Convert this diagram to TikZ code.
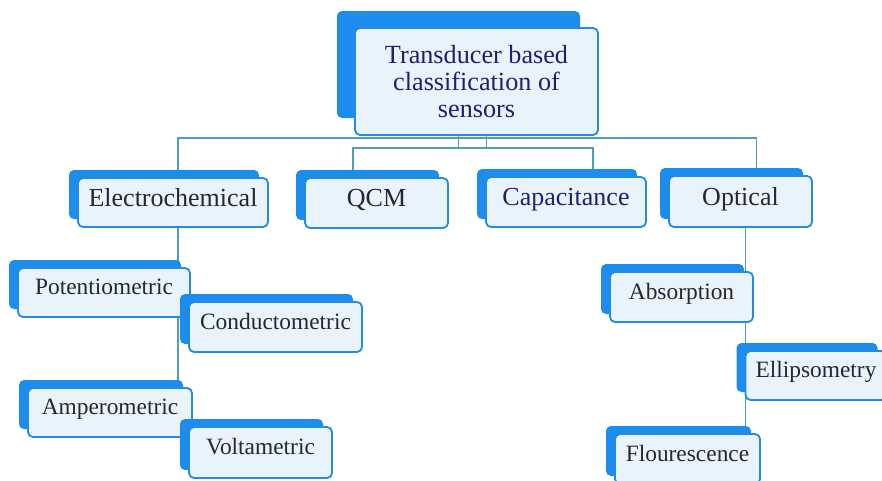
\documentclass[tikz,border=0pt]{standalone}
\usepackage{fontspec}
\setmainfont{Liberation Serif}
\usepackage{tikz}
\usetikzlibrary{positioning}
\usetikzlibrary{shadows}
\usetikzlibrary{backgrounds}
\definecolor{shadowblue}{RGB}{28,141,236}
\definecolor{edgeblue}{RGB}{36,138,226}
\definecolor{boxfill}{RGB}{232,243,252}
\definecolor{linkteal}{RGB}{78,158,180}
\definecolor{darktext}{RGB}{38,38,52}
\definecolor{navytext}{RGB}{32,32,112}

\begin{document}
\begin{tikzpicture}[x=1pt, y=-1pt,
    basebox/.style={draw=edgeblue, line width=1.8pt, fill=boxfill, rounded corners=5pt,
        inner sep=0pt, text=darktext},
    box/.style={basebox,
        general shadow={fill=shadowblue, shadow xshift=-9pt, shadow yshift=8pt}},
    catbox/.style={box, font=\fontsize{26}{30}\selectfont, text height=18pt, text depth=10.8pt},
    subbox/.style={box, font=\fontsize{23.4}{27}\selectfont, text height=16pt, text depth=11.5pt},
    link/.style={draw=linkteal, line width=1.8pt}]
    \useasboundingbox (0,0) rectangle (882,480);

    % root
    \node[basebox, minimum width=243pt, minimum height=107pt, align=center, text=navytext,
        font=\fontsize{26.2}{27}\selectfont,
        general shadow={fill=shadowblue, shadow xshift=-18pt, shadow yshift=17pt}]
        (top) at (476.5,81.5) {Transducer based\\classification of\\sensors};

    % first level
    \node[catbox, minimum width=190pt, minimum height=49pt] (elec) at (173,202.5) {Electrochemical};
    \node[catbox, minimum width=143pt, minimum height=50pt] (qcm) at (376.5,203) {QCM};
    \node[catbox, minimum width=160pt, minimum height=50pt, text=navytext] (cap) at (566,202) {Capacitance};
    \node[catbox, minimum width=143pt, minimum height=51pt] (opt) at (740.5,201.5) {Optical};

    % electrochemical branch
    \node[subbox, minimum width=172pt, minimum height=49pt] (pot) at (104,292.5) {Potentiometric};
    \node[subbox, minimum width=173pt, minimum height=50pt] (cond) at (275.5,327) {Conductometric};
    \node[subbox, minimum width=164pt, minimum height=49pt] (amp) at (110,412.5) {Amperometric};
    \node[subbox, minimum width=143pt, minimum height=51pt] (volt) at (260.5,452.5) {Voltametric};

    % optical branch
    \node[subbox, minimum width=143pt, minimum height=50pt] (abs) at (681.5,297) {Absorption};
    \node[subbox, minimum width=141pt, minimum height=49pt] (ell) at (816,375.5) {Ellipsometry};
    \node[subbox, minimum width=145pt, minimum height=50pt] (flo) at (687.5,459) {Flourescence};

    \begin{pgfonlayer}{background}
        \draw[link] ([xshift=5pt]elec.north) |- ([yshift=-2pt]top.south) -| ([xshift=16pt]opt.north);
        \draw[link] ([xshift=-23.5pt]qcm.north) |- ([yshift=-12pt]top.south) -| ([xshift=27pt]cap.north);
        \draw[link] ([xshift=-18pt]top.south) -- ([xshift=-18pt, yshift=-12pt]top.south);
        \draw[link] ([xshift=10pt]top.south) -- ([xshift=10pt, yshift=-12pt]top.south);
        \draw[link] ([xshift=5pt]elec.south) -- ([xshift=5pt]elec.south |- amp.north);
        \draw[link] ([xshift=5pt]opt.south) -- ([xshift=5pt]opt.south |- flo.north);
    \end{pgfonlayer}
\end{tikzpicture}
\end{document}
